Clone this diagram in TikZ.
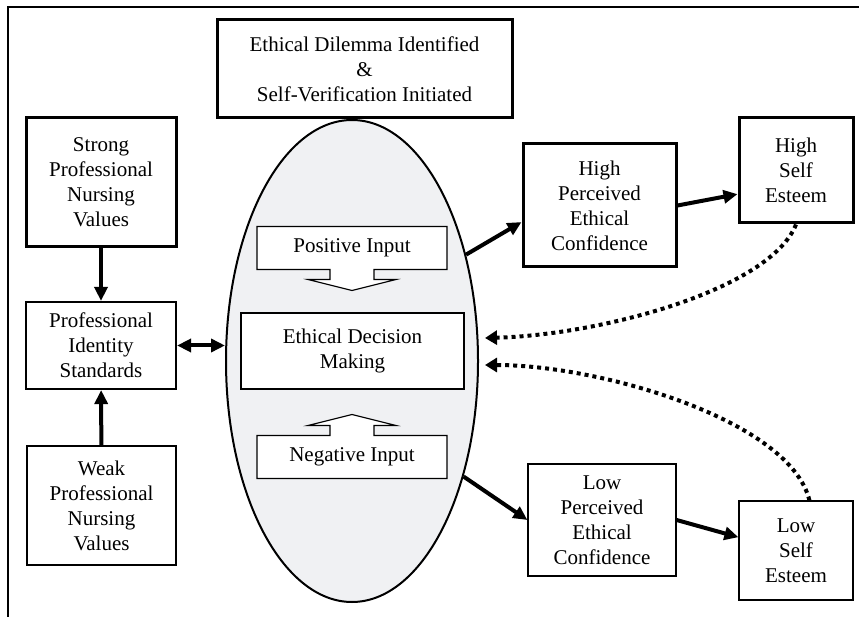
\documentclass[tikz,border=0pt]{standalone}
\usepackage{fontspec}
\setmainfont{Liberation Serif}
\usetikzlibrary{arrows.meta,shapes.geometric}
\definecolor{ovalgray}{RGB}{240,241,243}
\begin{document}
\begin{tikzpicture}[x=1pt,y=-1pt,
  every node/.style={font=\fontsize{21}{25}\selectfont,align=center,inner sep=0pt},
  thickbox/.style={draw,line width=3pt,fill=white},
  midbox/.style={draw,line width=2.2pt,fill=white},
  thinbox/.style={draw,line width=1.2pt,fill=white},
  solidarr/.style={line width=4pt,-{Triangle[length=14pt,width=13pt]}},
  dblarr/.style={line width=4pt,{Triangle[length=14pt,width=13pt]}-{Triangle[length=14pt,width=13pt]}},
  dotarr/.style={line width=4pt,dash pattern=on 4pt off 4pt,-{Triangle[length=12pt,width=14pt]}}]
\useasboundingbox (0,0) rectangle (859,617);
\draw[line width=2pt] (8,617) -- (8,6.7) -- (859,6.7);
% centre oval
\node[ellipse,draw,line width=2pt,fill=ovalgray,minimum width=252pt,minimum height=482pt] (oval) at (352,361) {};
\node[thickbox,minimum width=295pt,minimum height=98pt] (dilemma) at (364.5,69) {Ethical Dilemma Identified\\\&\\Self-Verification Initiated};
\foreach \nm/\cy/\s/\txt in {posin/248/1/Positive Input,negin/457/-1/Negative Input}{
  \draw[line width=1.2pt,fill=white,shift={(352,\cy)},yscale=\s] (-95,-21.5) -- (95,-21.5) -- (95,21.5) -- (22,21.5) -- (22,31.5) -- (44,31.5) -- (0,42.5) -- (-44,31.5) -- (-22,31.5) -- (-22,21.5) -- (-95,21.5) -- cycle;
  \node (\nm) at (352,\cy) {\txt};
}
\node[thinbox,minimum width=223pt,minimum height=76pt] (edm) at (352.5,351) {Ethical Decision\\Making};
% left column
\node[thickbox,minimum width=150pt,minimum height=129pt] (strong) at (101,182.5) {Strong\\Professional\\Nursing\\Values};
\node[midbox,minimum width=150pt,minimum height=87pt] (pis) at (101,345.5) {Professional\\Identity\\Standards};
\node[thinbox,minimum width=149pt,minimum height=119pt] (weak) at (101.5,505.5) {Weak\\Professional\\Nursing\\Values};
% right side
\node[thickbox,minimum width=153pt,minimum height=123pt] (hpec) at (599.5,205.5) {High\\Perceived\\Ethical\\Confidence};
\node[thickbox,minimum width=114pt,minimum height=105pt] (hse) at (796,170.5) {High\\Self\\Esteem};
\node[thinbox,minimum width=148pt,minimum height=112pt] (lpec) at (602,520) {Low\\Perceived\\Ethical\\Confidence};
\node[thinbox,minimum width=114pt,minimum height=99pt] (lse) at (796,550.5) {Low\\Self\\Esteem};
\draw[solidarr] (strong) -- (pis);
\draw[solidarr] (weak) -- (pis);
\draw[dblarr] (pis.east) -- (pis.east -| oval.west);
\draw[solidarr] (oval.43) -- (hpec.192);
\draw[solidarr] (hpec.east) -- (hse.202);
\draw[solidarr] (oval.-46) -- (lpec.west);
\draw[solidarr] (lpec.east) -- (lse.167);
\draw[dotarr] (hse.south) .. controls (770,290) and (600,335) .. (485,338);
\draw[dotarr] (lse.75) .. controls (790,420) and (600,365) .. (485,365);
\end{tikzpicture}
\end{document}
